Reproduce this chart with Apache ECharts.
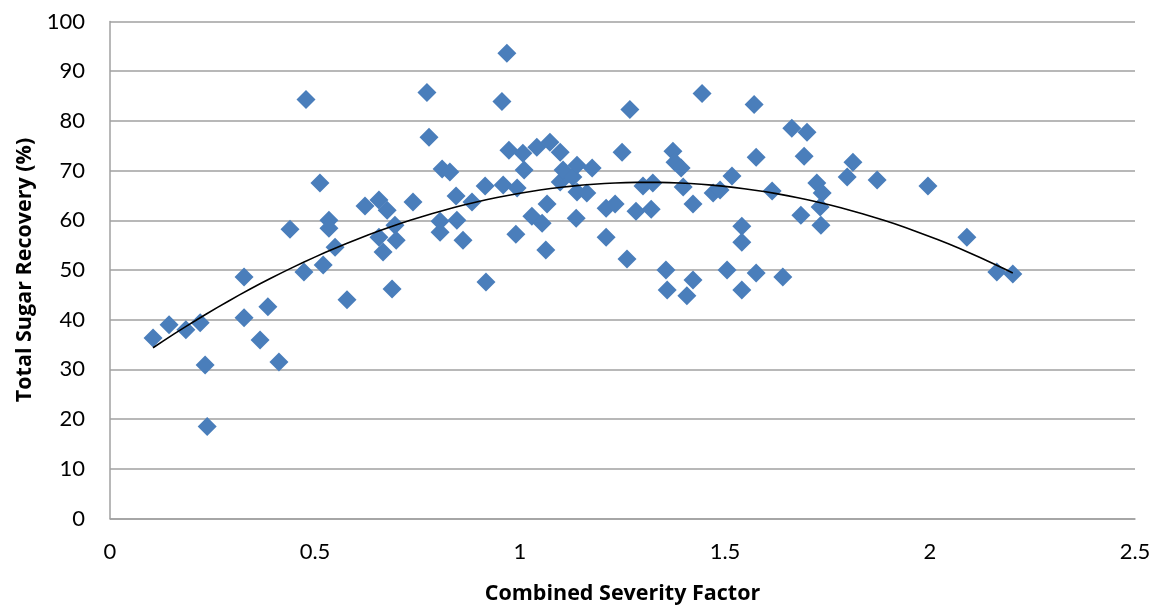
<!DOCTYPE html>
<html>
<head>
<meta charset="utf-8">
<title>Total Sugar Recovery vs Combined Severity Factor</title>
<script src="https://cdn.jsdelivr.net/npm/echarts@6/dist/echarts.min.js"></script>
<style>
  html, body { margin: 0; padding: 0; background: #ffffff; }
  #chart { width: 1158px; height: 607px; }
</style>
</head>
<body>
<div id="chart"></div>
<script>
// Combined severity factor of each pretreatment run
const severity = [
  0.105, 0.144, 0.185, 0.220, 0.232, 0.237, 0.327, 0.327, 0.366, 0.385,
  0.412, 0.439, 0.478, 0.473, 0.512, 0.520, 0.534, 0.534, 0.549, 0.578,
  0.622, 0.656, 0.656, 0.666, 0.676, 0.688, 0.695, 0.698, 0.739, 0.773,
  0.778, 0.805, 0.805, 0.810, 0.829, 0.844, 0.846, 0.861, 0.883, 0.915,
  0.917, 0.956, 0.968, 0.959, 0.973, 0.993, 0.990, 1.007, 1.010, 1.029,
  1.041, 1.054, 1.063, 1.066, 1.073, 1.098, 1.098, 1.105, 1.129, 1.139,
  1.139, 1.137, 1.163, 1.176, 1.210, 1.210, 1.232, 1.249, 1.261, 1.268,
  1.283, 1.300, 1.324, 1.320, 1.356, 1.359, 1.373, 1.378, 1.393, 1.398,
  1.407, 1.422, 1.422, 1.444, 1.471, 1.488, 1.505, 1.517, 1.541, 1.541,
  1.541, 1.571, 1.576, 1.576, 1.615, 1.641, 1.663, 1.700, 1.693, 1.685,
  1.724, 1.737, 1.732, 1.734, 1.812, 1.798, 1.871, 1.995, 2.090, 2.163,
  2.202
];

// Total sugar recovery (%) for the same runs
const recovery = [
  36.3, 39.0, 38.0, 39.4, 30.9, 18.5, 48.6, 40.4, 35.9, 42.6,
  31.5, 58.2, 84.3, 49.6, 67.5, 51.0, 60.0, 58.4, 54.6, 44.0,
  62.9, 64.1, 56.6, 53.6, 62.0, 46.2, 59.0, 56.0, 63.7, 85.7,
  76.7, 57.6, 59.8, 70.3, 69.7, 64.9, 60.0, 56.0, 63.7, 66.9,
  47.6, 83.9, 93.6, 67.1, 74.1, 66.5, 57.2, 73.5, 70.1, 60.8,
  74.7, 59.4, 54.0, 63.3, 75.7, 73.7, 67.7, 70.1, 68.7, 71.1,
  65.7, 60.4, 65.5, 70.5, 56.6, 62.4, 63.3, 73.7, 52.2, 82.3,
  61.8, 66.9, 67.5, 62.2, 50.0, 46.0, 73.9, 71.7, 70.5, 66.7,
  44.8, 48.0, 63.3, 85.5, 65.5, 66.1, 50.0, 68.9, 46.0, 58.8,
  55.6, 83.3, 72.7, 49.4, 65.9, 48.6, 78.5, 77.7, 72.9, 61.0,
  67.5, 65.5, 62.7, 59.0, 71.7, 68.7, 68.1, 66.9, 56.6, 49.6,
  49.2
];

// Axis tick labels
const xTicks = ['0', '0.5', '1', '1.5', '2', '2.5'];
const yTicks = ['0', '10', '20', '30', '40', '50', '60', '70', '80', '90', '100'];

const points = severity.map((x, i) => [x, recovery[i]]);

// Second-order polynomial trendline fitted to the runs by least squares
function quadFit(xs, ys) {
  let s = [0, 0, 0, 0, 0], t = [0, 0, 0];
  for (let i = 0; i < xs.length; i++) {
    let p = 1;
    for (let k = 0; k < 5; k++) { s[k] += p; if (k < 3) t[k] += p * ys[i]; p *= xs[i]; }
  }
  const A = [[s[0], s[1], s[2], t[0]], [s[1], s[2], s[3], t[1]], [s[2], s[3], s[4], t[2]]];
  for (let c = 0; c < 3; c++) {
    for (let r = c + 1; r < 3; r++) {
      const f = A[r][c] / A[c][c];
      for (let k = c; k < 4; k++) A[r][k] -= f * A[c][k];
    }
  }
  const b = [0, 0, 0];
  for (let r = 2; r >= 0; r--) {
    let v = A[r][3];
    for (let k = r + 1; k < 3; k++) v -= A[r][k] * b[k];
    b[r] = v / A[r][r];
  }
  return b;
}
const coef = quadFit(severity, recovery);
const xMin = Math.min(...severity), xMax = Math.max(...severity);
const trend = [];
for (let i = 0; i <= 80; i++) {
  const x = xMin + (xMax - xMin) * i / 80;
  trend.push([x, coef[0] + coef[1] * x + coef[2] * x * x]);
}

const FONT = 'Lato';
const chart = echarts.init(document.getElementById('chart'), null, { renderer: 'canvas' });
chart.setOption({
  animation: false,
  backgroundColor: '#ffffff',
  grid: {
    left: 110, right: 23, top: 21.5, bottom: 88.5,
    containLabel: false, outerBoundsMode: 'none'
  },
  xAxis: {
    type: 'value', min: 0, max: 2.5, interval: 0.5,
    name: 'Combined Severity Factor', nameLocation: 'middle', nameGap: 64,
    nameTextStyle: { fontFamily: 'Open Sans', fontWeight: 'bold', fontSize: 21.5, color: '#000' },
    axisLine: { show: true, onZero: false, lineStyle: { color: '#a0a0a0', width: 1.5 } },
    axisTick: { show: false },
    splitLine: { show: false },
    axisLabel: {
      margin: 22, fontFamily: FONT, fontSize: 22, color: '#000',
      formatter: v => xTicks[Math.round(v / 0.5)]
    }
  },
  yAxis: {
    type: 'value', min: 0, max: 100, interval: 10,
    name: 'Total Sugar Recovery (%)', nameLocation: 'middle', nameGap: 73,
    nameTextStyle: { fontFamily: 'Open Sans', fontWeight: 'bold', fontSize: 21.5, color: '#000' },
    axisLine: { show: true, lineStyle: { color: '#a0a0a0', width: 1.5 } },
    axisTick: { show: false },
    splitLine: { show: true, lineStyle: { color: '#a0a0a0', width: 1.5 } },
    axisLabel: {
      margin: 25, fontFamily: FONT, fontSize: 22, color: '#000',
      formatter: v => yTicks[Math.round(v / 10)]
    }
  },
  series: [
    {
      type: 'scatter', data: points, symbol: 'diamond', symbolSize: 19,
      itemStyle: { color: '#4a7ebb', opacity: 1 }, z: 2
    },
    {
      type: 'line', data: trend, showSymbol: false, smooth: false,
      lineStyle: { color: '#000000', width: 1.6 }, z: 3
    }
  ]
});
</script>
</body>
</html>
